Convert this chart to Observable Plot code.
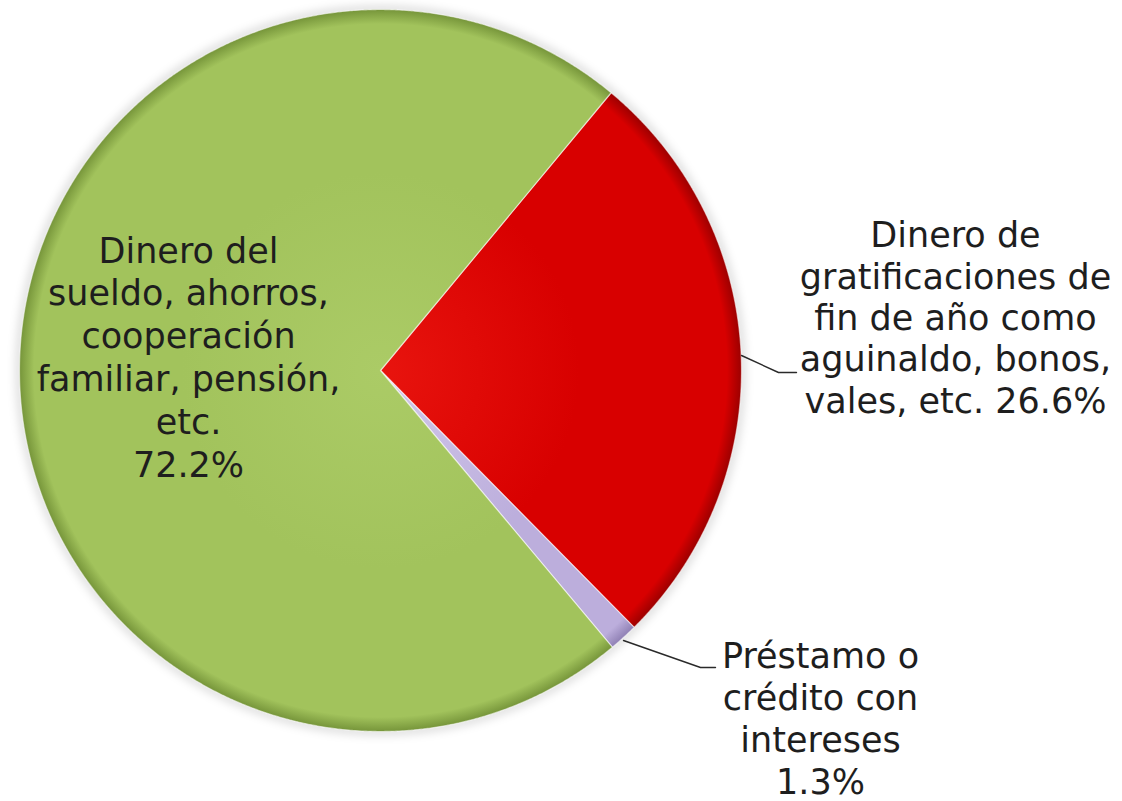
<!DOCTYPE html>
<html>
<head>
<meta charset="utf-8">
<script src="https://cdn.jsdelivr.net/npm/d3@7"></script>
<script src="https://cdn.jsdelivr.net/npm/@observablehq/plot@0.6"></script>
<style>
  html, body { margin: 0; padding: 0; background: #ffffff; }
  #chart { width: 1122px; height: 801px; }
</style>
</head>
<body>
<div id="chart"></div>
<script>
// ---- data ----
const categories = [
  "Dinero de gratificaciones de fin de año como aguinaldo, bonos, vales, etc.",
  "Préstamo o crédito con intereses",
  "Dinero del sueldo, ahorros, cooperación familiar, pensión, etc."
];
const values = [26.6, 1.3, 72.2];
const labelTexts = [
  "Dinero de\ngratificaciones de\nfin de año como\naguinaldo, bonos,\nvales, etc. 26.6%",
  "Préstamo o\ncrédito con\nintereses\n1.3%",
  "Dinero del\nsueldo, ahorros,\ncooperación\nfamiliar, pensión,\netc.\n72.2%"
];

// ---- layout / style constants ----
const W = 1122, H = 801;
const CX = 380, CY = 370, R = 361;
const START_DEG = 39.7;
const sliceColors = [
  {light: "#e8140e", base: "#d80000", dark: "#9c0000"},
  {light: "#d2c8ea", base: "#bcaedc", dark: "#8f80b4"},
  {light: "#abcb66", base: "#a2c35c", dark: "#76953a"}
];
const FONT = 35;
// label placement in pixels: center x, last baseline y, line spacing
const labelPos = [
  {px: 955, py: 412, lh: 41.3},
  {px: 820, py: 793, lh: 41.8},
  {px: 188, py: 476, lh: 42.8}
];
const leaderPx = [
  [[741, 355], [778, 372], [796, 372]],
  [[623, 640], [700, 667], [715, 667]],
  null
];

const ux = px => (px - CX) / R;
const uy = py => (CY - py) / R;

// ---- pie geometry from values ----
const start = START_DEG * Math.PI / 180;
const arcs = d3.pie().sort(null).value(d => d)
  .startAngle(start).endAngle(start + 2 * Math.PI)(values);

function slicePoints(a) {
  const pts = [{x: 0, y: 0}];
  const step = Math.PI / 720;
  const n = Math.max(2, Math.ceil((a.endAngle - a.startAngle) / step));
  for (let i = 0; i <= n; i++) {
    const t = a.startAngle + (a.endAngle - a.startAngle) * i / n;
    pts.push({x: Math.sin(t), y: Math.cos(t)});
  }
  pts.push({x: 0, y: 0});
  return pts;
}

// gradient definitions (render-only mark)
const defsMark = () => {
  const g = d3.create("svg:g");
  const defs = g.append("defs");
  sliceColors.forEach((c, i) => {
    const rg = defs.append("radialGradient")
      .attr("id", "sliceGrad" + i)
      .attr("gradientUnits", "userSpaceOnUse")
      .attr("cx", CX).attr("cy", CY).attr("r", R);
    rg.append("stop").attr("offset", "0%").attr("stop-color", c.light);
    rg.append("stop").attr("offset", "55%").attr("stop-color", c.base);
    rg.append("stop").attr("offset", "96%").attr("stop-color", c.base);
    rg.append("stop").attr("offset", "100%").attr("stop-color", c.dark);
  });
  const f = defs.append("filter").attr("id", "pieShadow")
    .attr("x", "-10%").attr("y", "-10%").attr("width", "120%").attr("height", "120%");
  f.append("feGaussianBlur").attr("stdDeviation", 5);
  return g.node();
};

const sliceMarks = arcs.map((a, i) => Plot.line(slicePoints(a), {
  x: "x", y: "y",
  fill: `url(#sliceGrad${i})`,
  stroke: "#ffffff", strokeOpacity: 0.55, strokeWidth: 1.2,
  strokeLinejoin: "round",
  curve: "linear",
  title: () => categories[i]
}));

// soft shadow ring under the pie
const ringPts = d3.range(0, 721).map(k => ({x: Math.sin(k * Math.PI / 360), y: Math.cos(k * Math.PI / 360)}));
const shadowMark = Plot.line(ringPts, {
  x: "x", y: "y", fill: "none", stroke: "#000", strokeOpacity: 0.18, strokeWidth: 6,
  render: (index, scales, values, dims, ctx, next) => {
    const node = next(index, scales, values, dims, ctx);
    node.setAttribute("filter", "url(#pieShadow)");
    return node;
  }
});

const leaderMarks = leaderPx.filter(d => d).map(seg => Plot.line(
  seg.map(([px, py]) => ({x: ux(px), y: uy(py)})),
  {x: "x", y: "y", stroke: "#2a2a2a", strokeWidth: 1.4, curve: "linear"}
));

const labelMarks = labelTexts.map((t, i) => Plot.text([{x: ux(labelPos[i].px), y: uy(labelPos[i].py), t}], {
  x: "x", y: "y", text: "t",
  fontSize: FONT,
  fontFamily: "DejaVu Sans, Verdana, sans-serif",
  lineHeight: labelPos[i].lh / FONT,
  lineAnchor: "bottom",
  textAnchor: "middle",
  fill: "#1e1e1e"
}));

const chart = Plot.plot({
  width: W, height: H,
  marginTop: 0, marginRight: 0, marginBottom: 0, marginLeft: 0,
  style: {background: "#ffffff", overflow: "visible"},
  x: {domain: [-1, 1], range: [CX - R, CX + R], axis: null},
  y: {domain: [-1, 1], range: [CY + R, CY - R], axis: null},
  marks: [defsMark, shadowMark, ...sliceMarks, ...leaderMarks, ...labelMarks]
});
document.getElementById("chart").appendChild(chart);
</script>
</body>
</html>
